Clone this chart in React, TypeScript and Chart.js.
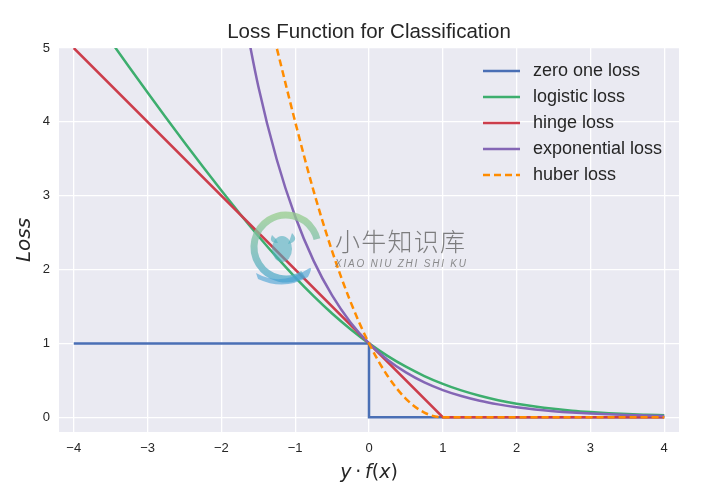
import React, { useEffect, useRef } from 'react';
import { Chart, registerables } from 'chart.js';

Chart.register(...registerables);

const chartTitle = 'Loss Function for Classification';
const seriesNames = ['zero one loss', 'logistic loss', 'hinge loss', 'exponential loss', 'huber loss'];
const seriesColors = ['#4A6FB5', '#3DAE6E', '#CC3D4B', '#8466B5', '#FF8C00'];

const xTicks = [-4, -3, -2, -1, 0, 1, 2, 3, 4];
const yTicks = [0, 1, 2, 3, 4, 5];

const zeroOneX = [-4, 0, 0, 4];
const zeroOneY = [1, 1, 0, 0];

const logisticX = [-4, -3.75, -3.5, -3.25, -3, -2.75, -2.5, -2.25, -2, -1.75, -1.5, -1.25, -1, -0.75, -0.5, -0.25, 0, 0.25, 0.5, 0.75, 1, 1.25, 1.5, 1.75, 2, 2.25, 2.5, 2.75, 3, 3.25, 3.5, 3.75, 4];
const logisticY = [5.797, 5.444, 5.093, 4.744, 4.398, 4.057, 3.72, 3.391, 3.069, 2.756, 2.455, 2.167, 1.895, 1.64, 1.405, 1.192, 1, 0.831, 0.684, 0.558, 0.452, 0.363, 0.291, 0.231, 0.183, 0.145, 0.114, 0.089, 0.07, 0.055, 0.043, 0.034, 0.026];

const hingeX = [-4, 1, 4];
const hingeY = [5, 0, 0];

const expX = [-1.75, -1.5, -1.25, -1, -0.75, -0.5, -0.25, 0, 0.25, 0.5, 0.75, 1, 1.25, 1.5, 1.75, 2, 2.25, 2.5, 2.75, 3, 3.25, 3.5, 3.75, 4];
const expY = [5.755, 4.482, 3.49, 2.718, 2.117, 1.649, 1.284, 1, 0.779, 0.607, 0.472, 0.368, 0.287, 0.223, 0.174, 0.135, 0.105, 0.082, 0.064, 0.05, 0.039, 0.03, 0.024, 0.018];

const huberX = [-1.5, -1.25, -1, -0.75, -0.5, -0.25, 0, 0.25, 0.5, 0.75, 1, 4];
const huberY = [6, 5, 4, 3.0625, 2.25, 1.5625, 1, 0.5625, 0.25, 0.0625, 0, 0];

const watermarkText = '小牛知识库';
const watermarkSub = 'XIAO NIU ZHI SHI KU';

const TEXT = '#262626';
const SANS = '"Liberation Sans", Arial, sans-serif';
const MATH = '"DejaVu Sans", sans-serif';

function pts(xs: number[], ys: number[]) {
  return xs.map((x, i) => ({ x, y: ys[i] }));
}

function fmt(v: number) {
  return v < 0 ? '\u2212' + Math.abs(v) : String(v);
}

const decorPlugin = {
  id: 'decor',
  beforeDraw(chart: any) {
    const { ctx, chartArea: a } = chart;
    ctx.save();
    ctx.fillStyle = '#EAEAF2';
    ctx.fillRect(a.left, a.top, a.right - a.left, a.bottom - a.top);
    ctx.restore();
  },
  afterDatasetsDraw(chart: any) {
    const { ctx } = chart;
    ctx.save();
    // logo ring
    const cx = 286, cy = 247, r = 32;
    const g = ctx.createLinearGradient(0, cy - r, 0, cy + r);
    g.addColorStop(0, 'rgba(150,205,140,0.75)');
    g.addColorStop(1, 'rgba(80,170,205,0.75)');
    ctx.strokeStyle = g;
    ctx.lineWidth = 7;
    ctx.beginPath();
    ctx.arc(cx, cy, r, 0.32 * Math.PI, 1.92 * Math.PI);
    ctx.stroke();
    // bull head
    ctx.fillStyle = 'rgba(80,175,190,0.6)';
    ctx.beginPath();
    ctx.ellipse(cx - 4, cy + 2, 10, 13, 0, 0, Math.PI * 2);
    ctx.fill();
    ctx.beginPath();
    ctx.moveTo(cx - 14, cy - 12);
    ctx.quadraticCurveTo(cx - 18, cy - 4, cx - 8, cy - 4);
    ctx.lineTo(cx - 10, cy - 8);
    ctx.closePath();
    ctx.fill();
    ctx.beginPath();
    ctx.moveTo(cx + 6, cy - 14);
    ctx.quadraticCurveTo(cx + 14, cy - 6, cx + 2, cy - 3);
    ctx.lineTo(cx + 4, cy - 8);
    ctx.closePath();
    ctx.fill();
    // hand
    ctx.fillStyle = 'rgba(70,160,210,0.6)';
    ctx.beginPath();
    ctx.moveTo(cx - 30, cy + 26);
    ctx.quadraticCurveTo(cx - 5, cy + 40, cx + 22, cy + 22);
    ctx.quadraticCurveTo(cx + 28, cy + 18, cx + 22, cy + 30);
    ctx.quadraticCurveTo(cx - 2, cy + 44, cx - 28, cy + 32);
    ctx.closePath();
    ctx.fill();
    // text
    ctx.fillStyle = 'rgba(105,105,105,0.85)';
    ctx.font = '300 25px "Noto Sans CJK SC", sans-serif';
    ctx.textBaseline = 'middle';
    ctx.textAlign = 'left';
    (ctx as any).letterSpacing = '0px';
    const tw = ctx.measureText(watermarkText).width;
    const ls = Math.max(0, (130 - tw) / (watermarkText.length - 1));
    (ctx as any).letterSpacing = ls + 'px';
    ctx.fillText(watermarkText, 335, 241);
    ctx.font = 'italic 10px ' + SANS;
    ctx.fillStyle = 'rgba(120,120,120,0.85)';
    (ctx as any).letterSpacing = '0px';
    const sw = ctx.measureText(watermarkSub).width;
    const ls2 = (131 - sw) / (watermarkSub.length - 1);
    (ctx as any).letterSpacing = ls2 + 'px';
    ctx.fillText(watermarkSub, 335, 264);
    (ctx as any).letterSpacing = '0px';
    ctx.restore();
  },
  afterDraw(chart: any) {
    const { ctx, chartArea: a } = chart;
    ctx.save();
    ctx.fillStyle = TEXT;
    // title
    ctx.font = '20.5px ' + SANS;
    ctx.textAlign = 'center';
    ctx.textBaseline = 'middle';
    ctx.fillText(chartTitle, (a.left + a.right) / 2, 32);

    // y title
    ctx.save();
    ctx.translate(25, (a.top + a.bottom) / 2);
    ctx.rotate(-Math.PI / 2);
    ctx.font = 'italic 20px ' + MATH;
    ctx.fillText('Loss', 0, 0);
    ctx.restore();

    // x title built from math pieces
    const parts: [string, boolean][] = [['y', true], ['\u2009\u00B7\u2009', false], ['f', true], ['(', false], ['x', true], [')', false]];
    let total = 0;
    const widths = parts.map(([t, it]) => {
      ctx.font = (it ? 'italic ' : '') + '19px ' + MATH;
      const w = ctx.measureText(t).width;
      total += w;
      return w;
    });
    let px = (a.left + a.right) / 2 - total / 2;
    ctx.textAlign = 'left';
    ctx.textBaseline = 'alphabetic';
    parts.forEach(([t, it], i) => {
      ctx.font = (it ? 'italic ' : '') + '19px ' + MATH;
      ctx.fillText(t, px, 478);
      px += widths[i];
    });

    // legend
    ctx.textBaseline = 'middle';
    ctx.font = '18px ' + SANS;
    chart.data.datasets.forEach((ds: any, i: number) => {
      const y = 71 + 26 * i;
      ctx.save();
      ctx.strokeStyle = ds.borderColor;
      ctx.lineWidth = 2.5;
      ctx.setLineDash(ds.borderDash || []);
      ctx.beginPath();
      ctx.moveTo(483, y);
      ctx.lineTo(520, y);
      ctx.stroke();
      ctx.restore();
      ctx.fillStyle = TEXT;
      ctx.fillText(ds.label, 533, y);
    });
    ctx.restore();
  },
};

export default function App() {
  const ref = useRef<HTMLCanvasElement>(null);
  useEffect(() => {
    document.body.style.margin = '0';
    const canvas = ref.current!;
    const base = { pointRadius: 0, borderWidth: 2.5, fill: false };
    const chart = new Chart(canvas, {
      type: 'line',
      data: {
        datasets: [
          { ...base, label: seriesNames[0], data: pts(zeroOneX, zeroOneY), borderColor: seriesColors[0], tension: 0, order: 5 },
          { ...base, label: seriesNames[1], data: pts(logisticX, logisticY), borderColor: seriesColors[1], cubicInterpolationMode: 'monotone', order: 4 },
          { ...base, label: seriesNames[2], data: pts(hingeX, hingeY), borderColor: seriesColors[2], tension: 0, order: 3 },
          { ...base, label: seriesNames[3], data: pts(expX, expY), borderColor: seriesColors[3], cubicInterpolationMode: 'monotone', order: 2 },
          { ...base, label: seriesNames[4], data: pts(huberX, huberY), borderColor: seriesColors[4], borderDash: [7, 4], cubicInterpolationMode: 'monotone', order: 1 },
        ] as any,
      },
      options: {
        responsive: false,
        animation: false,
        events: [],
        layout: { padding: { top: 48, right: 39, left: 0, bottom: 0 } },
        plugins: { legend: { display: false }, title: { display: false }, tooltip: { enabled: false } },
        scales: {
          x: {
            type: 'linear',
            min: -4.2,
            max: 4.2,
            afterBuildTicks: (s: any) => { s.ticks = xTicks.map((v) => ({ value: v })); },
            afterFit: (s: any) => { s.height = 62; },
            ticks: { callback: (v: any) => fmt(Number(v)), color: TEXT, font: { size: 13, family: SANS }, padding: 9, maxRotation: 0, autoSkip: false },
            grid: { color: '#FFFFFF', lineWidth: 1.3, drawTicks: false },
            border: { display: false },
          },
          y: {
            type: 'linear',
            min: -0.2,
            max: 5,
            afterBuildTicks: (s: any) => { s.ticks = yTicks.map((v) => ({ value: v })); },
            afterFit: (s: any) => { s.width = 59; },
            ticks: { callback: (v: any) => fmt(Number(v)), color: TEXT, font: { size: 13, family: SANS }, padding: 9, autoSkip: false },
            grid: { color: '#FFFFFF', lineWidth: 1.3, drawTicks: false },
            border: { display: false },
          },
        },
      },
      plugins: [decorPlugin],
    });
    return () => chart.destroy();
  }, []);
  return (
    <div style={{ position: 'absolute', left: 0, top: 0, width: 718, height: 494, background: '#fff' }}>
      <canvas ref={ref} width={718} height={494} />
    </div>
  );
}
